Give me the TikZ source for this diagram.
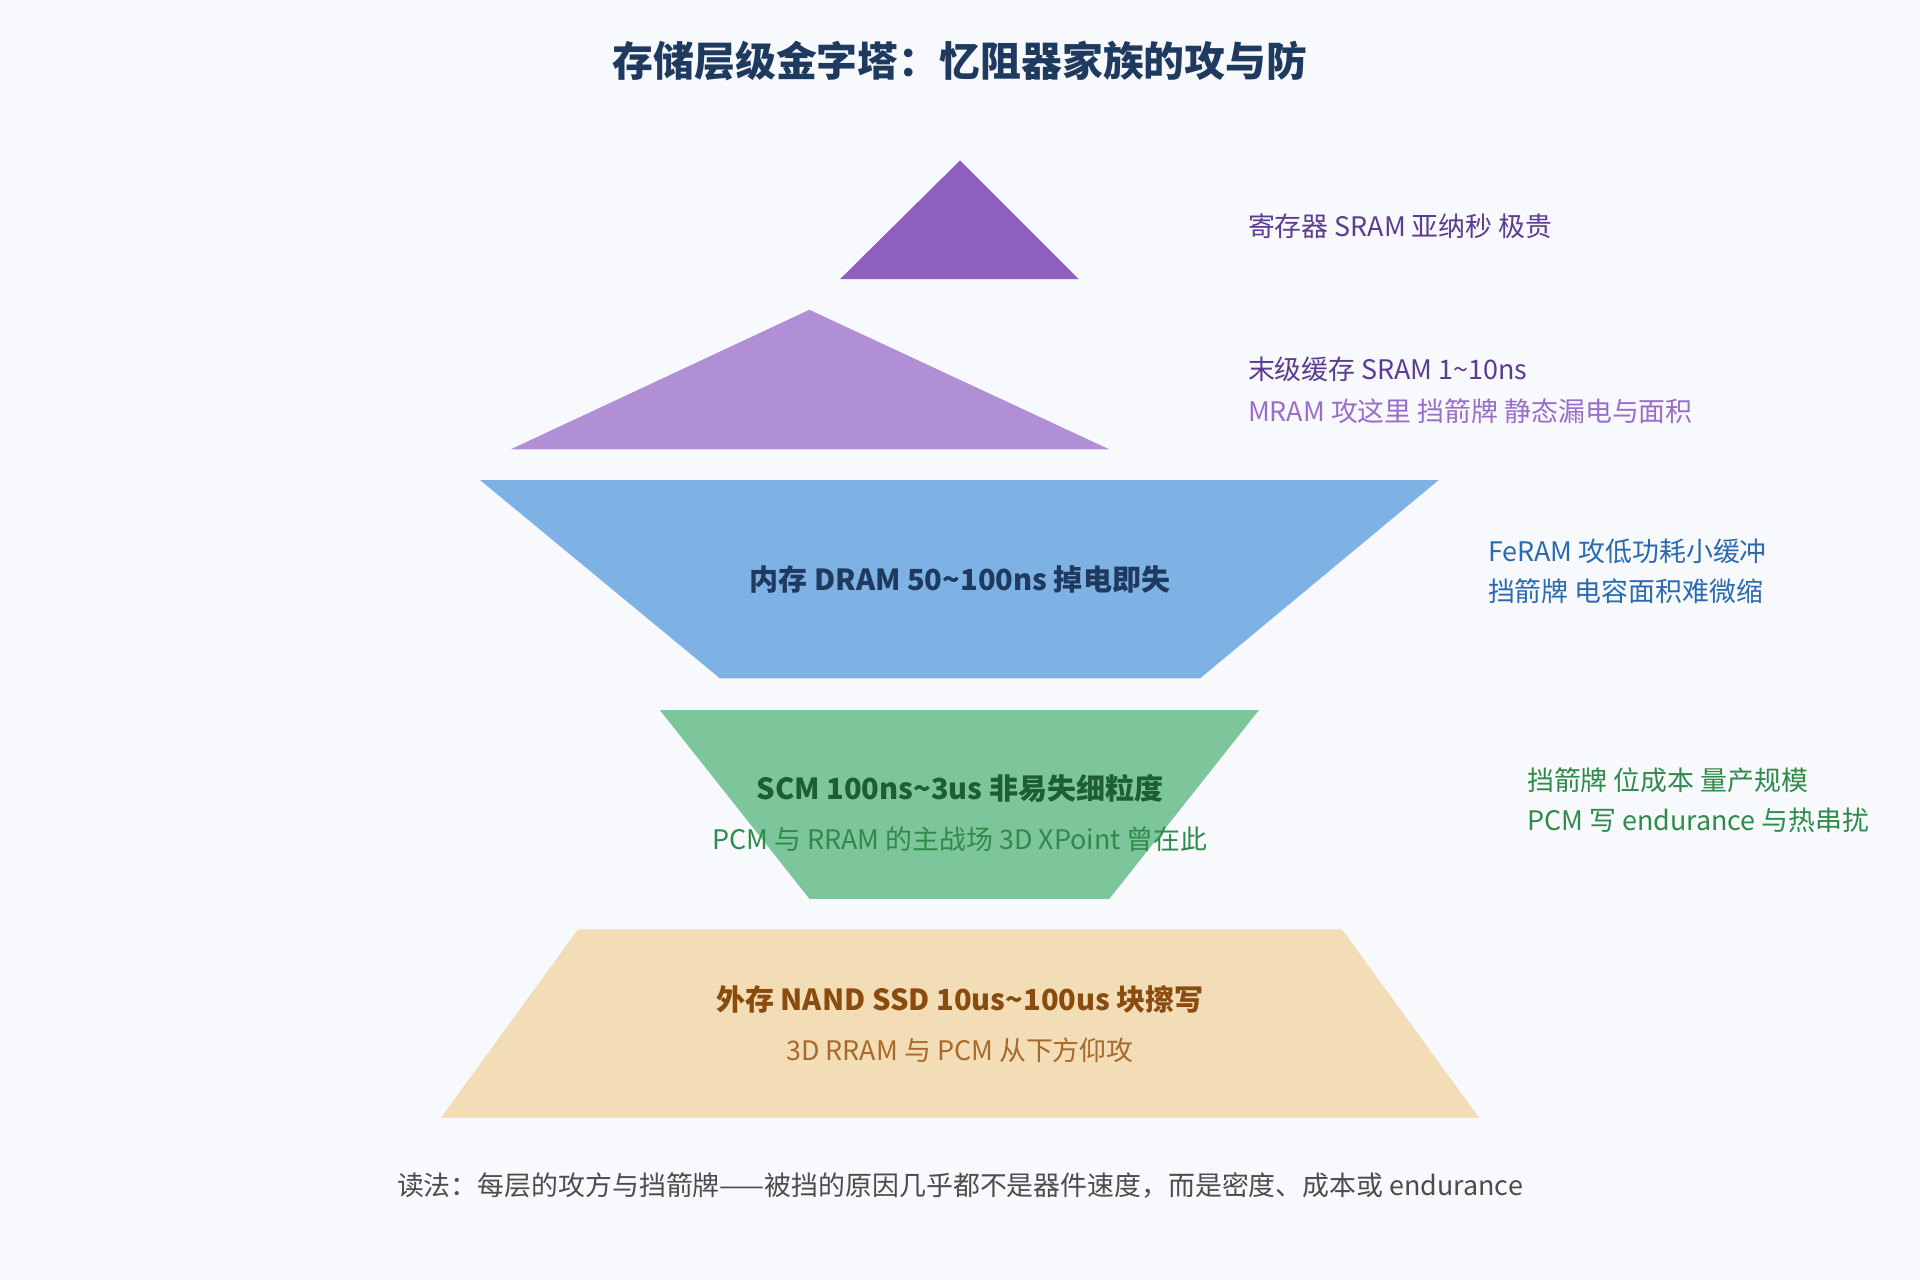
\documentclass[tikz,border=0pt]{standalone}
\usepackage{fontspec}
\setmainfont{Noto Sans CJK SC}
\definecolor{bg}{HTML}{F7F9FC}
\definecolor{navy}{HTML}{1F3A5F}
\definecolor{lvA}{HTML}{8E5EC0}
\definecolor{lvB}{HTML}{B08FD6}
\definecolor{lvC}{HTML}{7EB2E5}
\definecolor{lvD}{HTML}{7DC59A}
\definecolor{lvE}{HTML}{F3DDB6}
\definecolor{purD}{HTML}{5B3C91}
\definecolor{purL}{HTML}{9B6DCB}
\definecolor{bluT}{HTML}{2C6AAF}
\definecolor{grnD}{HTML}{1E5E34}
\definecolor{grnT}{HTML}{2E8B4A}
\definecolor{brnD}{HTML}{8A4B0F}
\definecolor{brnT}{HTML}{A8692A}
\tikzset{
  side/.style={anchor=west, font=\fontsize{12.5}{15}\selectfont},
  mid/.style={font=\fontsize{12.5}{15}\selectfont},
  midb/.style={font=\fontsize{13.5}{16}\selectfont\bfseries}
}
\begin{document}
\begin{tikzpicture}[x=0.02cm, y=-0.02cm]
            \fill[bg] (0,0) rectangle (1568,1045);
            \useasboundingbox (0,0) rectangle (1568,1045);
            \node[font=\fontsize{19}{22}\selectfont\bfseries, text=navy] (title) at (784,50) {存储层级金字塔：忆阻器家族的攻与防};
            % levels
            \fill[lvA] (784,131) -- (881,228) -- (686,228) -- cycle;
            \fill[lvB] (661,253) -- (906,367) -- (417,367) -- cycle;
            \fill[lvC] (392,392) -- (1175,392) -- (980,554) -- (588,554) -- cycle;
            \fill[lvD] (539,580) -- (1028,580) -- (906,734) -- (661,734) -- cycle;
            \fill[lvE] (472,759) -- (1096,759) -- (1208,913) -- (360,913) -- cycle;
            % texts
            \node[side, text=purD] (reg) at (1013,185) {寄存器 SRAM 亚纳秒 极贵};
            \node[side, text=purD] (llc) at (1013,302) {末级缓存 SRAM 1\textasciitilde10ns};
            \node[side, text=purL] (llc2) at (1013,336) {MRAM 攻这里 挡箭牌 静态漏电与面积};
            \node[midb, text=navy] (dram) at (784,473) {内存 DRAM 50\textasciitilde100ns 掉电即失};
            \node[side, text=bluT] (dram1) at (1209,450) {FeRAM 攻低功耗小缓冲};
            \node[side, text=bluT] (dram2) at (1209,483) {挡箭牌 电容面积难微缩};
            \node[midb, text=grnD] (scm) at (784,644) {SCM 100ns\textasciitilde3us 非易失细粒度};
            \node[mid, text=grnT] (scm2) at (784,685) {PCM 与 RRAM 的主战场 3D XPoint 曾在此};
            \node[side, text=grnT] (scm3) at (1241,637) {挡箭牌 位成本 量产规模};
            \node[side, text=grnT] (scm4) at (1241,670) {PCM 写 endurance 与热串扰};
            \node[midb, text=brnD] (nand) at (784,816) {外存 NAND SSD 10us\textasciitilde100us 块擦写};
            \node[mid, text=brnT] (nand2) at (784,858) {3D RRAM 与 PCM 从下方仰攻};
            \node[mid, text=black!70] (note) at (784,968) {读法：每层的攻方与挡箭牌——被挡的原因几乎都不是器件速度，而是密度、成本或 endurance};
\end{tikzpicture}
\end{document}
